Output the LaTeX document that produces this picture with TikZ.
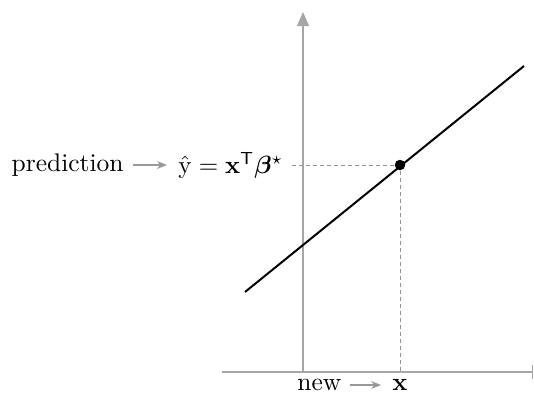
\documentclass[tikz,border=0pt]{standalone}
\usepackage{amsmath,amssymb,bm}
\usetikzlibrary{arrows.meta, positioning}

\begin{document}
\begin{tikzpicture}[
    x=0.4pt, y=0.4pt,
    font=\fontsize{10.2}{12}\selectfont,
    sumbu/.style={draw=gray!70, line width=0.55pt},
    bantu/.style={draw=gray!85, dash pattern=on 1.6pt off 1.2pt, line width=0.4pt},
    garis/.style={draw=black, line width=0.8pt},
    panah/.style={-{Stealth[length=1.4mm, width=1.1mm]}, draw=gray!80, line width=0.45pt,
                  shorten >=1pt},
    titik/.style={circle, fill=black, inner sep=0pt, minimum size=4.2pt}
  ]
    \useasboundingbox (0,0) rectangle (534,396);
    % sumbu
    \coordinate (kiri) at (222,24);
    \coordinate (kanan) at (533,24);
    \coordinate (bawah) at (303,24);
    \coordinate (atas) at (303,384);
    \draw[sumbu, -{Bar[width=2mm]}] (kiri) -- (kanan);
    \draw[sumbu, -{Triangle[length=2mm, width=1.7mm]}, fill=gray!70] (bawah) -- (atas);
    % garis regresi dan titik prediksi
    \coordinate (awal) at (245,104);
    \coordinate (akhir) at (524,330);
    \draw[garis] (awal) -- (akhir);
    \node[titik] (pt) at (400,231) {};
    % label
    \node[anchor=east] (yhat) at (292,231)
      {$\hat{\mathrm{y}} = \mathbf{x}^{\mathsf{T}}\boldsymbol{\beta}^{\star}$};
    \node[left=5.2mm of yhat] (pred) {prediction};
    \draw[panah] (pred) -- (yhat);
    \node (xbaru) at (400,11) {$\mathbf{x}$};
    \node[left=4.7mm of xbaru] (baru) {new};
    \draw[panah] (baru) -- (xbaru);
    % garis bantu
    \draw[bantu] (yhat.east) -- (pt);
    \draw[bantu] (pt) -- (pt |- kiri);
  \end{tikzpicture}
\end{document}
